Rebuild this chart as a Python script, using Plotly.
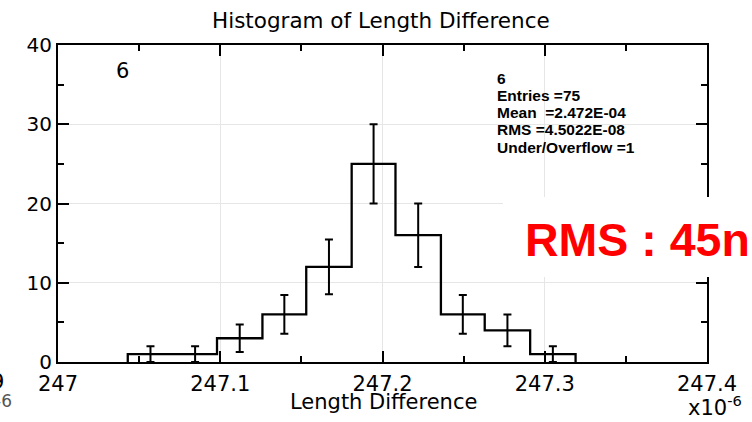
import plotly.graph_objects as go

# ---- data ----
bin_edges = [247.043, 247.071, 247.098, 247.126, 247.153, 247.181,
             247.208, 247.236, 247.263, 247.291, 247.319]
counts = [1, 1, 3, 6, 12, 25, 16, 6, 4, 1]
errors = [1.0, 1.0, 1.73, 2.45, 3.46, 5.0, 4.0, 2.45, 2.0, 1.0]
x_ticks = [247.0, 247.1, 247.2, 247.3, 247.4]
x_tick_labels = ["247", "247.1", "247.2", "247.3", "247.4"]
y_ticks = [0, 10, 20, 30, 40]
stats_lines = ["6", "Entries =75", "Mean  =2.472E-04", "RMS =4.5022E-08", "Under/Overflow =1"]

W, H = 752, 422
L, R, T, B = 58, 45, 45, 60
PW, PH = W - L - R, H - T - B


def px(x):
    return (x - L) / PW


def py(y):
    return (H - B - y) / PH


centers = [(a + b) / 2 for a, b in zip(bin_edges[:-1], bin_edges[1:])]
step_x = [bin_edges[0]] + bin_edges
step_y = [0] + counts + [0]

fig = go.Figure()
fig.add_trace(go.Scatter(
    x=step_x, y=step_y, mode="lines", line=dict(shape="hv", color="black", width=2.3),
    hoverinfo="skip", showlegend=False))
fig.add_trace(go.Scatter(
    x=centers, y=counts, mode="markers", marker=dict(size=1, color="black", opacity=0),
    error_y=dict(type="data", array=errors, visible=True, color="black", thickness=2, width=4),
    showlegend=False))

font_main = "DejaVu Sans"

fig.update_xaxes(
    range=[247.0, 247.4], tickmode="array", tickvals=x_ticks, ticktext=x_tick_labels,
    ticks="inside", ticklen=11, tickwidth=2, tickcolor="black",
    minor=dict(dtick=0.05, ticks="inside", ticklen=6, tickwidth=2, tickcolor="black", showgrid=False),
    showline=True, linewidth=2, linecolor="black", mirror="ticks",
    showgrid=True, gridcolor="#e6e6e6", gridwidth=1, zeroline=False,
    ticklabelstandoff=2,
    tickfont=dict(family=font_main, size=21, color="black"))
fig.update_yaxes(
    range=[0, 40], tickmode="array", tickvals=y_ticks,
    ticks="inside", ticklen=11, tickwidth=2, tickcolor="black",
    minor=dict(dtick=5, ticks="inside", ticklen=6, tickwidth=2, tickcolor="black", showgrid=False),
    showline=True, linewidth=2, linecolor="black", mirror="ticks",
    showgrid=True, gridcolor="#e6e6e6", gridwidth=1, zeroline=False,
    tickfont=dict(family=font_main, size=20, color="black"))

ann = []
ann.append(dict(text="Histogram of Length Difference", x=px(381), y=py(20), xref="paper", yref="paper",
                xanchor="center", yanchor="middle", showarrow=False,
                font=dict(family=font_main, size=21.5, color="black")))
ann.append(dict(text="Length Difference", x=px(383), y=py(402), xref="paper", yref="paper",
                xanchor="center", yanchor="middle", showarrow=False,
                font=dict(family=font_main, size=21, color="black")))
ann.append(dict(text="x10<sup>-6</sup>", x=px(686), y=py(406), xref="paper", yref="paper",
                xanchor="left", yanchor="middle", showarrow=False,
                font=dict(family=font_main, size=21, color="black")))
ann.append(dict(text="6", x=px(122), y=py(71), xref="paper", yref="paper",
                xanchor="center", yanchor="middle", showarrow=False,
                font=dict(family=font_main, size=21, color="black")))
for i, line in enumerate(stats_lines):
    ann.append(dict(text="<b>%s</b>" % line, x=px(495), y=py(78 + 17.3 * i), xref="paper", yref="paper",
                    xanchor="left", yanchor="middle", showarrow=False,
                    font=dict(family="Liberation Sans", size=15.5, color="black")))
# fragments at the left edge
ann.append(dict(text="9", x=px(6), y=py(382), xref="paper", yref="paper",
                xanchor="right", yanchor="middle", showarrow=False,
                font=dict(family=font_main, size=21, color="black")))
ann.append(dict(text="-6", x=px(14), y=py(401), xref="paper", yref="paper",
                xanchor="right", yanchor="middle", showarrow=False,
                font=dict(family=font_main, size=17, color="#555555")))
# red RMS label
ann.append(dict(text="<b>RMS : 45n</b>", x=px(752), y=py(240), xref="paper", yref="paper",
                xanchor="right", yanchor="middle", showarrow=False,
                font=dict(family="Liberation Sans", size=46.5, color="#ff0000")))

fig.update_layout(
    width=W, height=H, autosize=False,
    margin=dict(l=L, r=R, t=T, b=B, pad=0),
    paper_bgcolor="white", plot_bgcolor="white",
    annotations=ann,
    shapes=[dict(type="rect", xref="paper", yref="paper", x0=px(503), x1=px(770), y0=py(277), y1=py(197),
                 fillcolor="white", line=dict(width=0), layer="above")],
)

fig.write_html("out.html")
